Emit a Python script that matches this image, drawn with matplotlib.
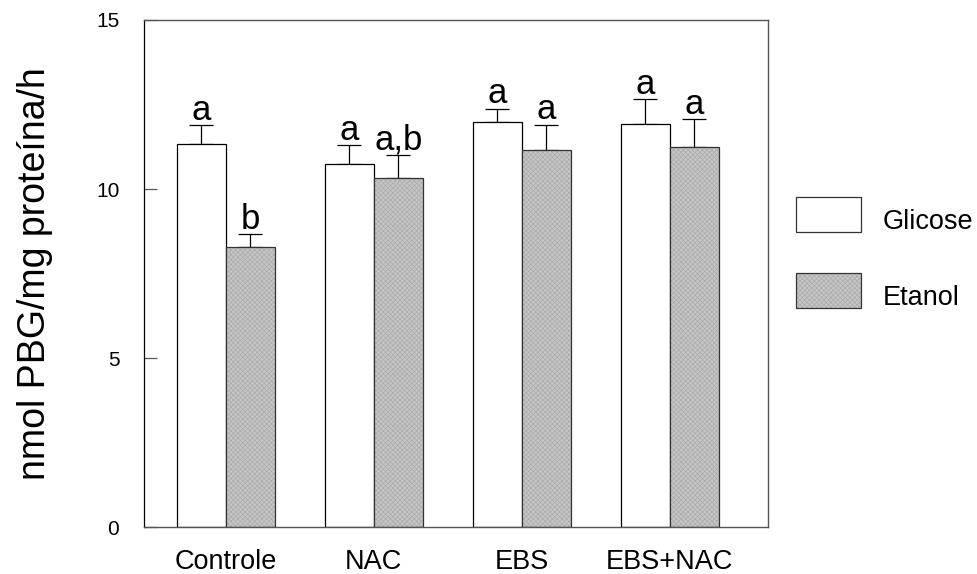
import matplotlib
matplotlib.use("Agg")
import matplotlib.pyplot as plt
from matplotlib.patches import Rectangle
import numpy as np

plt.rcParams['font.family'] = ['Liberation Sans', 'DejaVu Sans']
plt.rcParams['hatch.linewidth'] = 0.5

categories = ["Controle", "NAC", "EBS", "EBS+NAC"]
series_names = ["Glicose", "Etanol"]
glicose = [11.34, 10.73, 11.99, 11.92]
glicose_err = [0.55, 0.57, 0.38, 0.74]
etanol = [8.30, 10.33, 11.15, 11.25]
etanol_err = [0.37, 0.69, 0.75, 0.81]
glicose_letters = ["a", "a", "a", "a"]
etanol_letters = ["b", "a,b", "a", "a"]
yticks = [0, 5, 10, 15]
ylabel = "nmol PBG/mg proteína/h"

fig = plt.figure(figsize=(9.78, 5.74), dpi=100)
ax = fig.add_axes([0.1476, 0.0814, 0.7853 - 0.1476, 0.9652 - 0.0814])

x = np.arange(len(categories))
w = 0.331
fill_grey = "#c6c6c6"
hatch_grey = "#aaaaaa"

# Glicose bars
ax.bar(x - w / 2, glicose, w, color="white", edgecolor="black", linewidth=0.9, zorder=2)
# Etanol bars: textured fill + outline
ax.bar(x + w / 2, etanol, w, color=fill_grey, edgecolor=hatch_grey, hatch="xxxxxxx", linewidth=0, zorder=2)
ax.bar(x + w / 2, etanol, w, color="none", edgecolor="#333333", linewidth=0.9, zorder=3)

zeros = np.zeros(len(categories))
ax.errorbar(x - w / 2, glicose, yerr=[zeros, glicose_err], fmt="none", ecolor="black",
            elinewidth=0.9, capsize=8.6, capthick=0.9, zorder=1)
ax.errorbar(x + w / 2, etanol, yerr=[zeros, etanol_err], fmt="none", ecolor="black",
            elinewidth=0.9, capsize=8.6, capthick=0.9, zorder=1)

for xi, v, e, lab in zip(x - w / 2, glicose, glicose_err, glicose_letters):
    ax.annotate(lab, (xi, v + e), xytext=(0, 4), textcoords="offset points",
                ha="center", va="baseline", fontsize=25)
for xi, v, e, lab in zip(x + w / 2, etanol, etanol_err, etanol_letters):
    ax.annotate(lab, (xi, v + e), xytext=(0, 4), textcoords="offset points",
                ha="center", va="baseline", fontsize=25)

ax.set_xlim(-0.55, 3.664)
ax.set_ylim(0, 15)
ax.set_xticks(x)
ax.set_xticklabels(categories, fontsize=19.5)
ax.tick_params(axis="x", length=0, pad=15.5)
ax.set_yticks(yticks)
ax.set_yticklabels([str(t) for t in yticks], fontsize=15)
ax.tick_params(axis="y", direction="in", length=9.5, width=0.9, color="#555555", pad=18)
ax.set_ylabel(ylabel, fontsize=27, labelpad=31)

for side in ["top", "right", "bottom"]:
    ax.spines[side].set_color("#555555")
    ax.spines[side].set_linewidth(1.0)
ax.spines["left"].set_color("black")
ax.spines["left"].set_linewidth(0.9)

# Legend drawn manually in figure pixels
W, H = 978, 574
def fx(px):
    return px / W
def fy(py):
    return 1 - py / H

legend_boxes = [(796, 197), (796, 273)]
legend_fills = ["white", fill_grey]
for (bx, by), name, fc in zip(legend_boxes, series_names, legend_fills):
    if fc != "white":
        r2 = Rectangle((fx(bx), fy(by + 35)), 65 / W, 35 / H, transform=fig.transFigure,
                       facecolor=fc, edgecolor=hatch_grey, hatch="xxxxxxx", linewidth=0)
        fig.add_artist(r2)
    r = Rectangle((fx(bx), fy(by + 35)), 65 / W, 35 / H, transform=fig.transFigure,
                  facecolor="none" if fc != "white" else "white", edgecolor="#333333", linewidth=0.9)
    fig.add_artist(r)
    fig.text(fx(883), fy(by + 25), name, fontsize=19.5, ha="left", va="center")

fig.savefig("out.png", dpi=100)
